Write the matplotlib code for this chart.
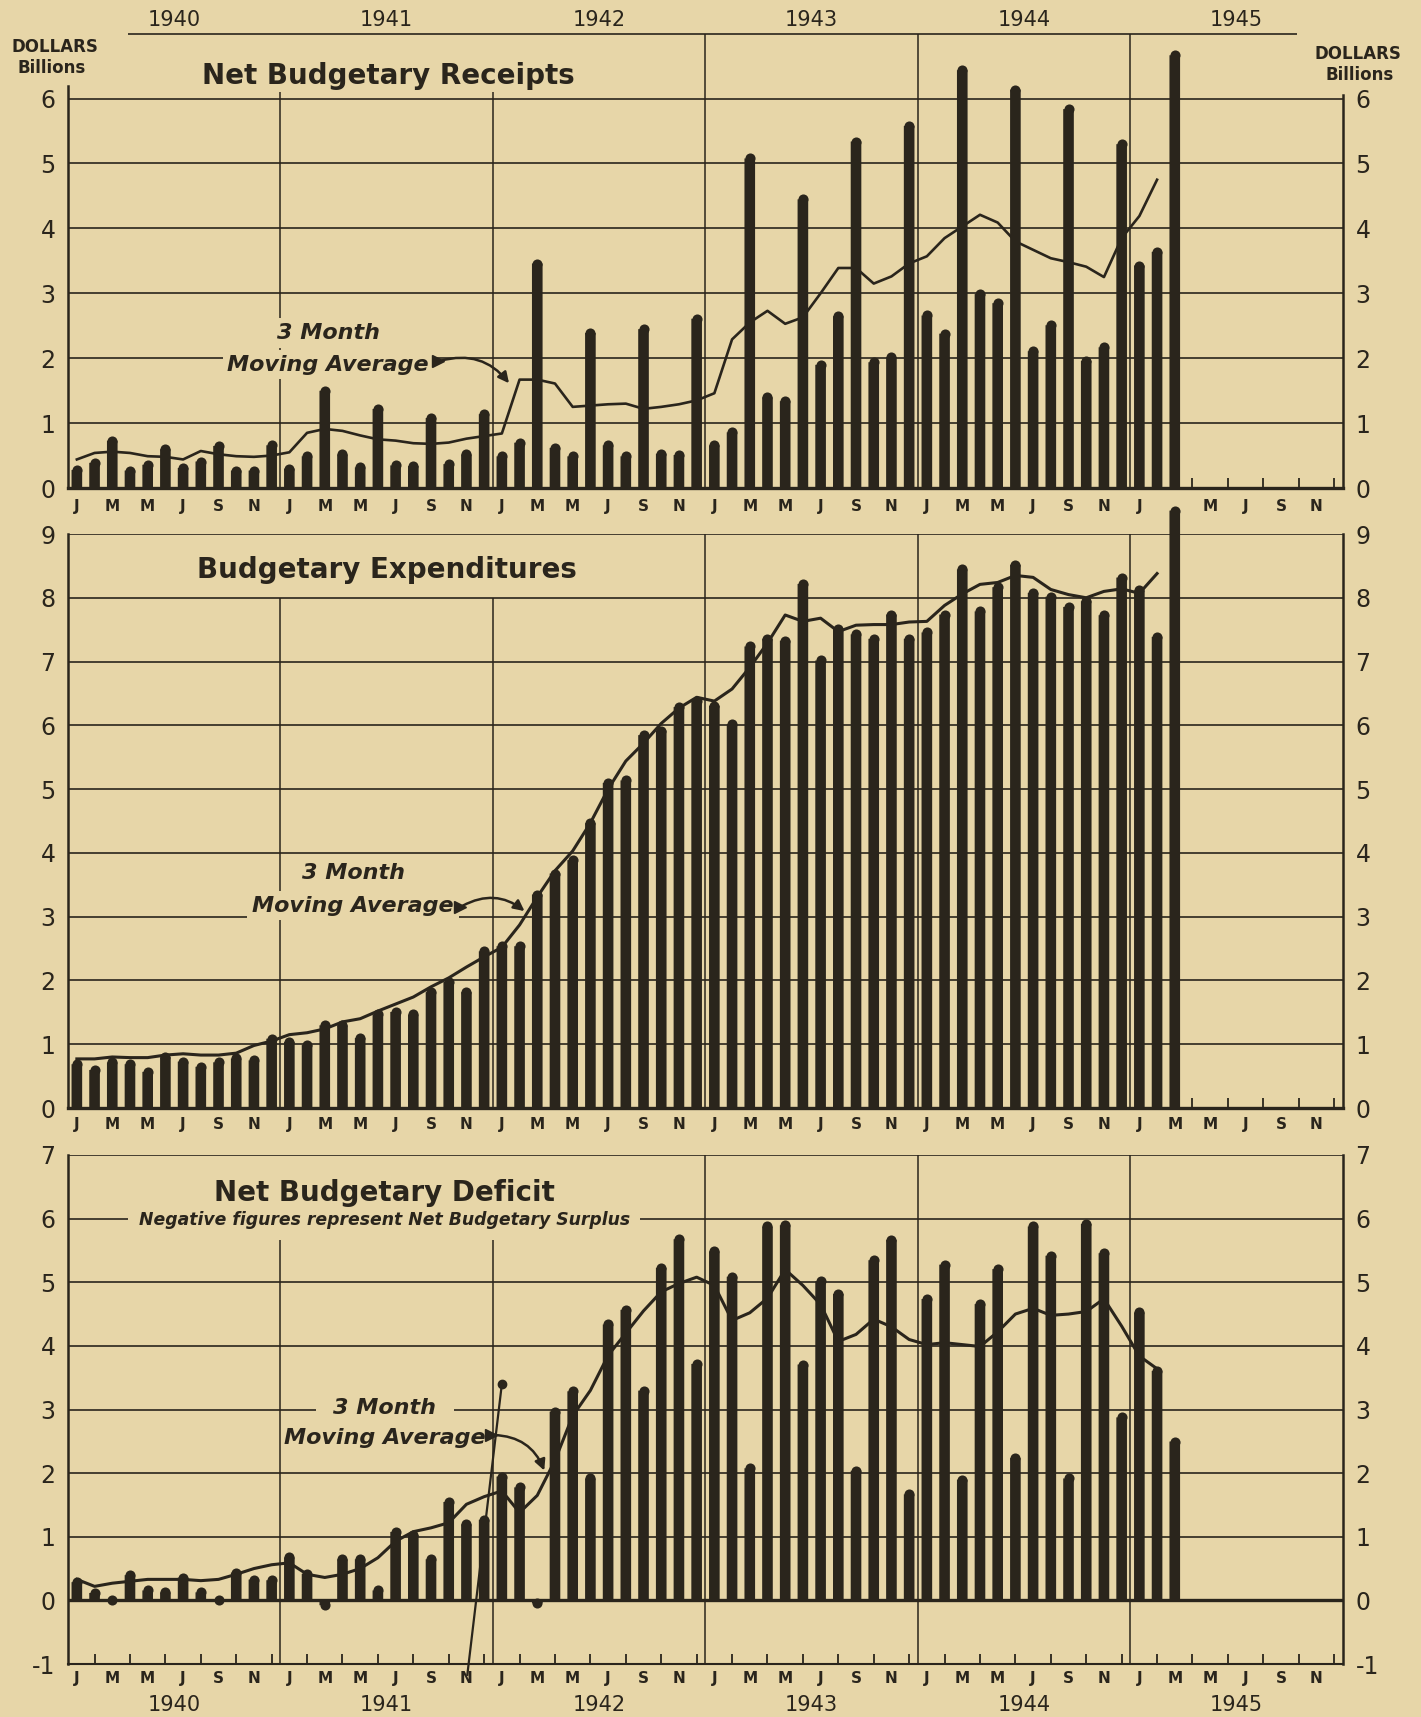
import numpy as np
import matplotlib
matplotlib.use("Agg")
import matplotlib.pyplot as plt
from matplotlib.patches import FancyArrowPatch

# colours picked off the old scan
paper = "#e7d6a8"
ink = "#2a251c"

plt.rcParams["font.family"] = ["DejaVu Sans"]

years = ["1940", "1941", "1942", "1943", "1944", "1945"]
month_letters = ["J", "M", "M", "J", "S", "N"]

# monthly values Jan 1940 - Mar 1945, dollars billions
receipts = [0.36, 0.47, 0.81, 0.35, 0.44, 0.68, 0.39, 0.49, 0.73, 0.35, 0.35, 0.74,
            0.38, 0.57, 1.58, 0.60, 0.40, 1.30, 0.43, 0.42, 1.16, 0.45, 0.60, 1.22,
            0.57, 0.78, 3.54, 0.70, 0.57, 2.47, 0.74, 0.57, 2.53, 0.61, 0.59, 2.69,
            0.74, 0.94, 5.16, 1.48, 1.42, 4.53, 1.98, 2.73, 5.42, 2.02, 2.10, 5.66,
            2.74, 2.46, 6.52, 3.07, 2.93, 6.22, 2.19, 2.59, 5.92, 2.04, 2.25, 5.38,
            3.51, 3.72, 6.75]
receipts_avg = [0.44, 0.54, 0.56, 0.54, 0.49, 0.48, 0.44, 0.57, 0.52, 0.49, 0.48, 0.50,
                0.55, 0.85, 0.91, 0.88, 0.81, 0.75, 0.73, 0.69, 0.68, 0.70, 0.76, 0.80,
                0.84, 1.67, 1.67, 1.61, 1.25, 1.27, 1.29, 1.30, 1.22, 1.25, 1.29, 1.35,
                1.46, 2.29, 2.55, 2.73, 2.53, 2.63, 3.00, 3.39, 3.39, 3.15, 3.26, 3.46,
                3.57, 3.85, 4.03, 4.21, 4.09, 3.80, 3.67, 3.54, 3.48, 3.41, 3.25, 3.85,
                4.19, 4.75]

expenditures = [0.77, 0.68, 0.80, 0.77, 0.65, 0.88, 0.81, 0.73, 0.80, 0.86, 0.83, 1.17,
                1.12, 1.07, 1.38, 1.38, 1.18, 1.55, 1.59, 1.55, 1.90, 2.06, 1.90, 2.54,
                2.62, 2.62, 3.43, 3.76, 3.97, 4.55, 5.18, 5.22, 5.93, 6.00, 6.37, 6.47,
                6.39, 6.10, 7.32, 7.44, 7.41, 8.30, 7.10, 7.60, 7.51, 7.44, 7.82, 7.44,
                7.54, 7.82, 8.53, 7.87, 8.25, 8.60, 8.16, 8.10, 7.94, 8.03, 7.81, 8.40,
                8.20, 7.47, 9.45]
expenditures_avg = [0.77, 0.77, 0.80, 0.79, 0.79, 0.83, 0.85, 0.83, 0.83, 0.86, 0.98, 1.05,
                    1.15, 1.18, 1.24, 1.35, 1.40, 1.52, 1.63, 1.74, 1.90, 2.04, 2.21, 2.37,
                    2.52, 2.87, 3.31, 3.72, 4.03, 4.47, 5.00, 5.44, 5.72, 6.03, 6.27, 6.44,
                    6.38, 6.57, 6.91, 7.29, 7.73, 7.63, 7.68, 7.47, 7.57, 7.58, 7.58, 7.62,
                    7.63, 7.88, 8.06, 8.21, 8.24, 8.35, 8.32, 8.13, 8.05, 8.00, 8.10, 8.14,
                    8.07, 8.38]

deficit = [0.37, 0.20, 0.05, 0.48, 0.24, 0.21, 0.44, 0.21, 0.07, 0.52, 0.41, 0.40,
           0.76, 0.50, -0.16, 0.73, 0.73, 0.24, 1.16, 1.11, 0.73, 1.63, 1.28, 1.35,
           2.03, 1.86, -0.13, 3.05, 3.37, 2.00, 4.42, 4.65, 3.38, 5.31, 5.76, 3.80,
           5.57, 5.17, 2.16, 5.96, 5.98, 3.79, 5.10, 4.90, 2.12, 5.43, 5.75, 1.75,
           4.82, 5.36, 1.98, 4.74, 5.29, 2.32, 5.96, 5.50, 2.00, 6.00, 5.54, 2.96,
           4.61, 3.69, 2.58]
deficit_avg = [0.33, 0.22, 0.27, 0.30, 0.33, 0.33, 0.33, 0.31, 0.33, 0.41, 0.50, 0.56,
               0.59, 0.41, 0.36, 0.41, 0.50, 0.67, 0.93, 1.08, 1.14, 1.22, 1.51, 1.63,
               1.72, 1.38, 1.65, 2.20, 2.90, 3.30, 3.85, 4.20, 4.55, 4.85, 4.98, 5.08,
               4.95, 4.40, 4.52, 4.75, 5.20, 4.95, 4.65, 4.07, 4.18, 4.42, 4.30, 4.10,
               4.02, 4.05, 4.02, 3.99, 4.22, 4.50, 4.59, 4.48, 4.50, 4.54, 4.74, 4.31,
               3.84, 3.64]

W, H = 1421, 1717
DPI = 100
fig = plt.figure(figsize=(W / DPI, H / DPI), dpi=DPI, facecolor=paper)


def add_panel(top, bottom):
    # place axes by pixel rows so the three panels line up with the scan
    ax = fig.add_axes([68 / W, 1 - bottom / H, (1343 - 68) / W, (bottom - top) / H])
    ax.set_facecolor("none")
    return ax


def setup(ax, ylo, yhi, levels, grid_levels, left_top, right_top, year_tops,
          tick_months, label_pad, skip_label=None):
    ax.set_xlim(0, 72)
    ax.set_ylim(ylo, yhi)
    ax.spines["top"].set_visible(False)
    ax.spines["left"].set_bounds(ylo, left_top)
    ax.spines["right"].set_bounds(ylo, right_top)
    for side in ["left", "right"]:
        ax.spines[side].set_linewidth(1.8)
        ax.spines[side].set_color(ink)
    ax.spines["bottom"].set_color(ink)
    ax.spines["bottom"].set_linewidth(2.4 if ylo == 0 else 1.5)

    ax.set_yticks(levels)
    ax.set_yticklabels([str(v) for v in levels])
    ax.tick_params(axis="y", length=0, labelsize=17, colors=ink, pad=9,
                   labelright=True)

    # month letters under the axis
    label_pos = np.arange(0, 72, 2) + 0.5
    labels = month_letters * 6
    if skip_label is not None:
        labels[skip_label] = ""
    ax.set_xticks(label_pos)
    ax.set_xticklabels(labels)
    ax.tick_params(axis="x", which="major", length=0, pad=label_pad, labelsize=11,
                   labelcolor=ink)
    for lab in ax.get_xticklabels():
        lab.set_fontweight("bold")
    ax.set_xticks(np.array(tick_months) + 0.5, minor=True)
    ax.tick_params(axis="x", which="minor", direction="in", length=7, width=1.3,
                   color=ink)

    ax.hlines(grid_levels, 0, 72, color=ink, lw=1.2, zorder=1)
    ax.vlines([12, 24, 36, 48, 60], ylo, year_tops, color=ink, lw=1.1, zorder=1)


def draw_series(ax, values, avg, line_w=2.2, width=0.6):
    x = np.arange(len(values)) + 0.5
    vals = np.array(values)
    # bars on the print have round ends: shorten the bar by half its width
    # (in y units) and put a disc of the bar's width on the end
    p0 = ax.transData.transform((0, 0))
    bar_px = ax.transData.transform((width, 0))[0] - p0[0]
    unit_px = ax.transData.transform((0, 1))[1] - p0[1]
    r = bar_px / 2 / unit_px
    body = np.sign(vals) * np.maximum(np.abs(vals) - r, 0)
    ax.bar(x, body, width=width, color=ink, lw=0, zorder=3, clip_on=False, snap=False)
    ax.plot(x, body, ls="none", marker="o", ms=0.95 * bar_px * 72 / DPI, mec="none",
            mfc=ink, zorder=3, clip_on=False)
    xa = np.arange(len(avg)) + 0.5
    ax.plot(xa, avg, color=ink, lw=line_w, zorder=4, solid_joinstyle="round")


def note(ax, x, y_top, y_bot, arrow_from, arrow_to, pads=(0.22, 0.22)):
    kw = dict(ha="center", va="baseline", fontsize=16, style="italic", weight="bold",
              color=ink, zorder=6)
    ax.text(x, y_top, "3 Month",
            bbox=dict(boxstyle=f"square,pad={pads[0]}", fc=paper, ec="none"), **kw)
    ax.text(x, y_bot, "Moving Average",
            bbox=dict(boxstyle=f"square,pad={pads[1]}", fc=paper, ec="none"), **kw)
    ax.add_patch(FancyArrowPatch(arrow_from, arrow_to, connectionstyle="arc3,rad=-0.35",
                                 arrowstyle="-|>", mutation_scale=16, lw=1.8,
                                 color=ink, zorder=7))
    ax.plot(*arrow_from, marker=">", ms=9, color=ink, zorder=7)


title_kw = dict(ha="center", va="baseline", fontsize=20, weight="bold", color=ink, zorder=8)

# ---- panel 1 : receipts
ax1 = add_panel(33.7, 488)
setup(ax1, 0, 7, range(0, 7), range(1, 7), 6.2, 6.05,
      [6.1, 6.1, 7, 7, 7], range(63, 72), 8, skip_label=31)
ax1.hlines(7, 3.4, 69.4, color=ink, lw=1.2, clip_on=False)
draw_series(ax1, receipts, receipts_avg, line_w=1.9)
note(ax1, 14.7, 2.29, 1.81, (20.9, 1.95), (25.0, 1.58))
ax1.text(18.1, 6.22, "Net Budgetary Receipts", **title_kw)
for i, yr in enumerate(years):
    ax1.text(6 + 12 * i, 7.21, yr, ha="center", va="center", fontsize=15, color=ink)

# ---- panel 2 : expenditures
ax2 = add_panel(534, 1108)
setup(ax2, 0, 9, range(0, 10), range(1, 10), 9, 9,
      [8, 8, 9, 9, 9], range(63, 72), 6.5)
draw_series(ax2, expenditures, expenditures_avg)
note(ax2, 16.1, 3.59, 3.08, (22.15, 3.15), (25.9, 3.06))
ax2.text(18.0, 8.31, "Budgetary Expenditures", **title_kw)

# ---- panel 3 : deficit
ax3 = add_panel(1155, 1664)
setup(ax3, -1, 7, range(-1, 8), range(1, 8), 7, 7,
      [5.66, 5.66, 7, 7, 7], range(0, 72), 5)
ax3.axhline(0, color=ink, lw=2.4, zorder=2)
draw_series(ax3, deficit, deficit_avg)
note(ax3, 17.9, 2.93, 2.46, (23.9, 2.6), (26.95, 2.0), pads=(0.8, 0.05))
ax3.text(17.85, 6.27, "Net Budgetary Deficit", **title_kw)
ax3.text(17.85, 5.9, "Negative figures represent Net Budgetary Surplus",
         ha="center", va="baseline", fontsize=12.4, style="italic", weight="bold",
         color=ink, zorder=6, bbox=dict(boxstyle="square,pad=0.6", fc=paper, ec="none"))
# stray pointer line on the original print
ax3.plot([24.5, 22.55], [3.4, -1.17], color=ink, lw=1.6, zorder=5, clip_on=False)
ax3.plot(24.5, 3.4, marker="o", ms=6, color=ink, zorder=5)
for i, yr in enumerate(years):
    ax3.text(6 + 12 * i, -1.64, yr, ha="center", va="center", fontsize=15, color=ink)

# unit captions
for x, y, s in [(55, 47, "DOLLARS"), (52, 68, "Billions"),
                (1358, 54, "DOLLARS"), (1360, 75, "Billions")]:
    fig.text(x / W, 1 - y / H, s, ha="center", va="center", fontsize=12,
             weight="bold", color=ink)

fig.savefig("out.png", dpi=DPI, facecolor=paper)
